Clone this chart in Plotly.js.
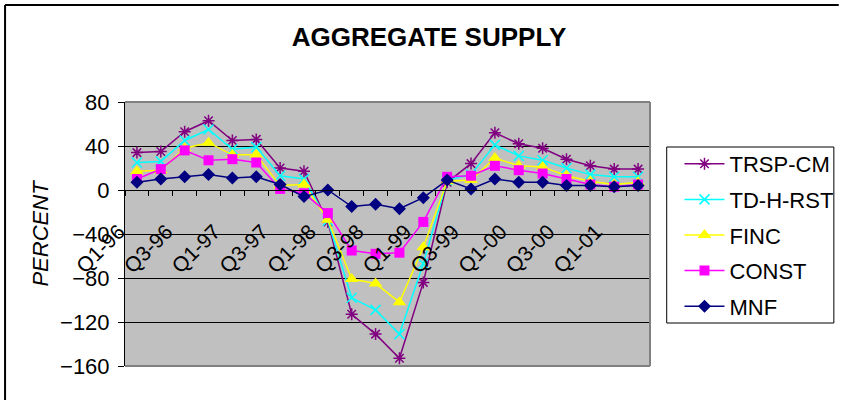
<!DOCTYPE html>
<html>
<head>
<meta charset="utf-8">
<script src="https://cdn.plot.ly/plotly-3.0.1.min.js"></script>
<style>
  html, body { margin: 0; padding: 0; background: #ffffff; }
  #chart { width: 851px; height: 400px; }
</style>
</head>
<body>
<div id="chart"></div>
<script>
// Quarterly categories, Q1-96 through Q2-01
const quarters = [
  "Q1-96", "Q2-96", "Q3-96", "Q4-96",
  "Q1-97", "Q2-97", "Q3-97", "Q4-97",
  "Q1-98", "Q2-98", "Q3-98", "Q4-98",
  "Q1-99", "Q2-99", "Q3-99", "Q4-99",
  "Q1-00", "Q2-00", "Q3-00", "Q4-00",
  "Q1-01", "Q2-01"
];

// Percent change by sector
const trspCm  = [34, 35, 53, 63, 45, 46, 20, 17, -29, -113, -131, -153, -84, 7, 24, 52, 42, 38, 28, 22, 19, 19];
const tdHRst  = [25, 26, 45, 55, 37, 39, 13, 10, -28, -98, -109, -131, -67, 9, 14, 41, 31, 27, 20, 14, 12, 12];
const finc    = [17, 18, 38, 43, 32, 32, 4, 5, -27, -81, -85, -102, -52, 8, 9, 29, 22, 21, 13, 8, 5, 7];
const constr  = [10, 19, 36, 27, 28, 25, 1, -3, -21, -55, -58, -57, -29, 12, 13, 22, 18, 15, 10, 5, 3, 5];
const mnf     = [7, 10, 12, 14, 11, 12, 5, -6, 0, -15, -13, -17, -7, 9, 1, 10, 7, 7, 4, 4, 3, 4];

const seriesNames = ["TRSP-CM", "TD-H-RST", "FINC", "CONST", "MNF"];

const idx = quarters.map((_, i) => i);
const labelIdx = idx.filter(i => i % 2 === 0);
const labelText = labelIdx.map(i => quarters[i]);

const styles = [
  { color: "#800080", symbol: "asterisk-open", size: 10, lw: 1.5 },
  { color: "#00FFFF", symbol: "x-thin-open", size: 10, lw: 1.5 },
  { color: "#FFFF00", symbol: "triangle-up", size: 12, lw: 0 },
  { color: "#FF00FF", symbol: "square", size: 10, lw: 0 },
  { color: "#000080", symbol: "diamond", size: 10, lw: 0 }
];
const values = [trspCm, tdHRst, finc, constr, mnf];

const traces = values.map((v, k) => ({
  type: "scatter",
  mode: "lines+markers",
  name: seriesNames[k],
  legendgroup: seriesNames[k],
  x: idx,
  y: v,
  line: { color: styles[k].color, width: 1.5 },
  marker: {
    color: styles[k].color,
    symbol: styles[k].symbol,
    size: styles[k].size,
    line: { color: styles[k].color, width: styles[k].lw }
  }
}));

const FONT = "Arial, 'Liberation Sans', sans-serif";

// pixel helpers for the frame/legend box (plot area spans x 125..659, y 102..366)
const px = x => (x - 125) / 534;
const py = y => (366 - y) / 264;

const layout = {
  width: 851,
  height: 400,
  margin: { l: 125, r: 192, t: 102, b: 34 },
  paper_bgcolor: "#ffffff",
  plot_bgcolor: "#C0C0C0",
  font: { family: FONT, color: "#000000", size: 19 },
  title: {
    text: "<b>AGGREGATE SUPPLY</b>",
    font: { family: FONT, size: 26, color: "#000000" },
    x: 429 / 851,
    xanchor: "center",
    xref: "container",
    y: 1 - 37 / 400,
    yanchor: "middle",
    yref: "container"
  },
  xaxis: {
    type: "linear",
    range: [-0.5, quarters.length - 0.5],
    anchor: "free",
    position: 160 / 240,
    showgrid: false,
    zeroline: false,
    showline: true,
    linecolor: "#000000",
    linewidth: 1,
    tickmode: "array",
    tickvals: labelIdx,
    ticktext: labelText,
    ticks: "",
    tickangle: -45,
    tickfont: { family: FONT, size: 21 },
    ticklabelstandoff: 20,
    ticklabelshift: -18,
    minor: {
      tickmode: "linear",
      tick0: 0.5,
      dtick: 1,
      ticks: "outside",
      ticklen: 5,
      tickcolor: "#000000",
      tickwidth: 1,
      showgrid: false
    }
  },
  yaxis: {
    range: [-160, 80],
    dtick: 40,
    tick0: 0,
    showgrid: true,
    gridcolor: "#000000",
    gridwidth: 1,
    zeroline: false,
    showline: true,
    linecolor: "#000000",
    linewidth: 1,
    ticks: "outside",
    ticklen: 6,
    tickcolor: "#000000",
    tickfont: { family: FONT, size: 22 },
    ticklabelstandoff: 4,
    automargin: false,
    title: {
      text: "PERCENT",
      font: { family: FONT, size: 22, style: "italic" },
      standoff: 5
    }
  },
  legend: {
    x: px(689),
    xanchor: "left",
    y: py(143),
    yanchor: "top",
    bgcolor: "rgba(0,0,0,0)",
    borderwidth: 0,
    font: { family: FONT, size: 22 },
    traceorder: "grouped",
    tracegroupgap: 4,
    itemwidth: 40
  },
  shapes: [
    // plot-area frame (top, right, bottom)
    { type: "line", xref: "paper", yref: "paper", x0: 0, x1: 1, y0: 1, y1: 1, line: { color: "#808080", width: 2 } },
    { type: "line", xref: "paper", yref: "paper", x0: 1, x1: 1, y0: 0, y1: 1, line: { color: "#808080", width: 2 } },
    { type: "line", xref: "paper", yref: "paper", x0: 0, x1: 1, y0: 0, y1: 0, line: { color: "#808080", width: 2 } },
    // legend box
    { type: "rect", xref: "paper", yref: "paper", x0: px(676), x1: px(846), y0: py(323), y1: py(147), fillcolor: "#ffffff", line: { color: "#000000", width: 1 }, layer: "above" },
    // chart-area frame (top and left)
    { type: "line", xref: "paper", yref: "paper", x0: px(3), x1: px(851), y0: py(5), y1: py(5), line: { color: "#000000", width: 2 } },
    { type: "line", xref: "paper", yref: "paper", x0: px(3), x1: px(3), y0: py(5), y1: py(400), line: { color: "#000000", width: 2 } }
  ],
  showlegend: true
};

Plotly.newPlot("chart", traces, layout, { displayModeBar: false, staticPlot: true });
</script>
</body>
</html>
